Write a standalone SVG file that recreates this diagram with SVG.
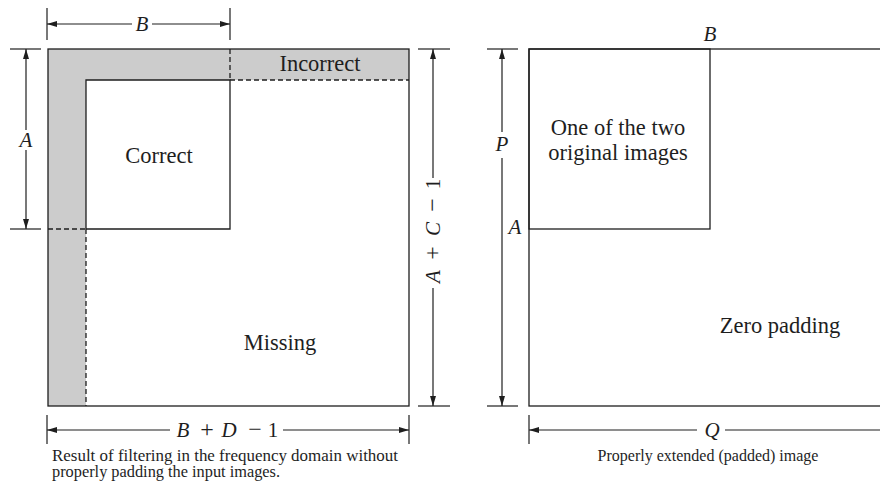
<svg xmlns="http://www.w3.org/2000/svg" width="880" height="488" viewBox="0 0 880 488">
<style>
.ln{stroke:#1e1e1e;stroke-width:1.3;fill:none}
.ds{stroke:#1e1e1e;stroke-width:1.3;fill:none;stroke-dasharray:5 3}
.dim{stroke:#1e1e1e;stroke-width:1.2;fill:none}
.lbl{font-family:"Liberation Serif","Times New Roman",serif;font-size:22.5px;fill:#1e1e1e}
.it{font-family:"Liberation Serif","Times New Roman",serif;font-size:21px;font-style:italic;fill:#1e1e1e}
.rm{font-family:"Liberation Serif","Times New Roman",serif;font-size:21px;fill:#1e1e1e}
.op{font-size:24px}
.cap{font-family:"Liberation Serif","Times New Roman",serif;font-size:16px;fill:#1e1e1e}
</style>
<defs>
<marker id="ah" markerUnits="userSpaceOnUse" markerWidth="10" markerHeight="7" refX="10" refY="3.5" orient="auto-start-reverse">
<path d="M0,0.5 L10,3.5 L0,6.5 z" fill="#1e1e1e"/>
</marker>
</defs>
<rect width="880" height="488" fill="#ffffff"/>

<g id="left-figure">
<g id="incorrect-region">
<polygon points="48,49 409,49 409,80 86,80 86,406 48,406" fill="#cccccc"/>
<text class="lbl" x="320" y="71" text-anchor="middle">Incorrect</text>
</g>
<g id="left-outer">
<rect class="ln" x="48" y="49" width="361" height="357"/>
</g>
<g id="correct-region">
<polyline class="ln" points="86,229 86,80 230,80 230,229 86,229"/>
<text class="lbl" x="159" y="163" text-anchor="middle">Correct</text>
</g>
<g id="dashed-bounds">
<line class="ds" x1="230" y1="49" x2="230" y2="80"/>
<line class="ds" x1="230" y1="80" x2="409" y2="80"/>
<line class="ds" x1="48" y1="229" x2="86" y2="229"/>
<line class="ds" x1="86" y1="229" x2="86" y2="406"/>
</g>
<g id="missing-region">
<text class="lbl" x="280" y="350" text-anchor="middle">Missing</text>
</g>
<g id="left-caption">
<text class="cap" x="52" y="461" textLength="346" lengthAdjust="spacingAndGlyphs">Result of filtering in the frequency domain without</text>
<text class="cap" x="52" y="477" textLength="228" lengthAdjust="spacingAndGlyphs">properly padding the input images.</text>
</g>
</g>

<g id="right-figure">
<g id="padded-image">
<rect class="ln" x="529" y="49" width="370" height="357"/>
<text class="lbl" x="780" y="333" text-anchor="middle">Zero padding</text>
</g>
<g id="original-image">
<rect class="ln" x="529" y="49" width="181" height="180"/>
<text class="lbl" x="618" y="135" text-anchor="middle">One of the two</text>
<text class="lbl" x="618" y="160" text-anchor="middle">original images</text>
</g>
<text class="it" x="710" y="41" text-anchor="middle">B</text>
<text class="it" x="515" y="234" text-anchor="middle">A</text>
<g id="right-caption">
<text class="cap" x="708" y="461" text-anchor="middle">Properly extended (padded) image</text>
</g>
</g>

<g id="connectors">
<!-- B top -->
<line class="dim" x1="47" y1="8" x2="47" y2="40"/>
<line class="dim" x1="230" y1="8" x2="230" y2="40"/>
<line class="dim" x1="132" y1="24" x2="47" y2="24" marker-end="url(#ah)"/>
<line class="dim" x1="152" y1="24" x2="230" y2="24" marker-end="url(#ah)"/>
<text class="it" x="142" y="31" text-anchor="middle">B</text>
<!-- A left -->
<line class="dim" x1="10" y1="49" x2="41" y2="49"/>
<line class="dim" x1="10" y1="229" x2="41" y2="229"/>
<line class="dim" x1="26" y1="130" x2="26" y2="49" marker-end="url(#ah)"/>
<line class="dim" x1="26" y1="150" x2="26" y2="229" marker-end="url(#ah)"/>
<text class="it" x="26" y="147" text-anchor="middle">A</text>
<!-- A+C-1 -->
<line class="dim" x1="418" y1="49" x2="450" y2="49"/>
<line class="dim" x1="418" y1="406" x2="450" y2="406"/>
<line class="dim" x1="433" y1="178" x2="433" y2="49" marker-end="url(#ah)"/>
<line class="dim" x1="433" y1="288" x2="433" y2="406" marker-end="url(#ah)"/>
<text transform="translate(440,232) rotate(-90)" class="rm"><tspan class="it" x="-44.5" y="0" text-anchor="middle">A</tspan><tspan class="op" x="-21" y="0" text-anchor="middle">+</tspan><tspan class="it" x="3" y="0" text-anchor="middle">C</tspan><tspan class="op" x="27" y="0" text-anchor="middle">−</tspan><tspan x="48" y="0" text-anchor="middle">1</tspan></text>
<!-- B+D-1 -->
<line class="dim" x1="47" y1="415" x2="47" y2="444"/>
<line class="dim" x1="409" y1="415" x2="409" y2="444"/>
<line class="dim" x1="170" y1="430" x2="47" y2="430" marker-end="url(#ah)"/>
<line class="dim" x1="283" y1="430" x2="409" y2="430" marker-end="url(#ah)"/>
<text class="rm" y="437"><tspan class="it" x="183" text-anchor="middle">B</tspan><tspan class="op" x="207" text-anchor="middle">+</tspan><tspan class="it" x="229" text-anchor="middle">D</tspan><tspan class="op" x="255" text-anchor="middle">−</tspan><tspan x="273" text-anchor="middle">1</tspan></text>
<!-- P -->
<line class="dim" x1="487" y1="49" x2="518" y2="49"/>
<line class="dim" x1="487" y1="406" x2="518" y2="406"/>
<line class="dim" x1="502" y1="132" x2="502" y2="49" marker-end="url(#ah)"/>
<line class="dim" x1="502" y1="158" x2="502" y2="406" marker-end="url(#ah)"/>
<text class="it" x="502" y="151" text-anchor="middle">P</text>
<!-- Q -->
<line class="dim" x1="529" y1="415" x2="529" y2="444"/>
<line class="dim" x1="697" y1="430" x2="529" y2="430" marker-end="url(#ah)"/>
<line class="dim" x1="725" y1="430" x2="890" y2="430" marker-end="url(#ah)"/>
<text class="it" x="712" y="437" text-anchor="middle">Q</text>
</g>
</svg>
